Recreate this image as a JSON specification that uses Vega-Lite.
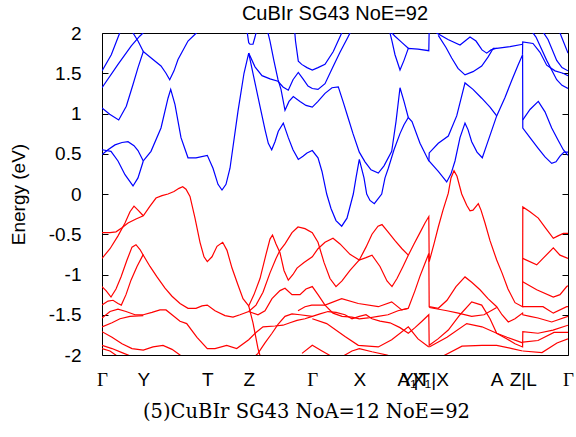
{
"$schema":"https://vega.github.io/schema/vega-lite/v6.json",
"width":466,"height":322,
"autosize":{"type":"none"},
"padding":{"left":102,"top":33,"right":8,"bottom":82},
"background":"white",
"config":{"view":{"stroke":"#000","strokeWidth":1}},
"title":{"text":"CuBIr SG43 NoE=92","font":"Liberation Sans","fontSize":20,"fontWeight":"normal","color":"#000","baseline":"alphabetic","offset":3,"dy":19},
"datasets":{
"kp":[{"k":41.3},{"k":105.3},{"k":146.7},{"k":210.3},{"k":257.3},{"k":306.3},{"k":327},{"k":394.7},{"k":420.7}],
"cb":[
{"b":1,"k":0,"e":0.49},{"b":1,"k":6,"e":0.55},{"b":1,"k":13,"e":0.61},{"b":1,"k":20,"e":0.64},{"b":1,"k":26,"e":0.65},{"b":1,"k":32,"e":0.6},{"b":1,"k":36,"e":0.54},{"b":1,"k":41.3,"e":0.41},
{"b":2,"k":0,"e":0.55},{"b":2,"k":9,"e":0.53},{"b":2,"k":16,"e":0.41},{"b":2,"k":23,"e":0.24},{"b":2,"k":31,"e":0.1},{"b":2,"k":36,"e":0.2},{"b":2,"k":41.3,"e":0.41},
{"b":3,"k":0,"e":1.07},{"b":3,"k":7.7,"e":0.99},{"b":3,"k":16.7,"e":0.92},{"b":3,"k":24.3,"e":1.09},{"b":3,"k":31,"e":1.36},{"b":3,"k":36,"e":1.57},{"b":3,"k":41.3,"e":1.77},{"b":3,"k":51,"e":1.67},{"b":3,"k":59,"e":1.59},{"b":3,"k":64,"e":1.5},{"b":3,"k":67.7,"e":1.42},{"b":3,"k":72,"e":1.53},{"b":3,"k":76,"e":1.67},{"b":3,"k":86,"e":1.9},{"b":3,"k":94.3,"e":2.0},{"b":3,"k":100,"e":2.1},
{"b":4,"k":0,"e":1.32},{"b":4,"k":16,"e":1.61},{"b":4,"k":29.3,"e":1.84},{"b":4,"k":37.7,"e":1.96},{"b":4,"k":41,"e":2.0},{"b":4,"k":44,"e":2.05},
{"b":5,"k":0,"e":1.53},{"b":5,"k":9.3,"e":1.73},{"b":5,"k":17.7,"e":2.0},{"b":5,"k":20,"e":2.05},
{"b":6,"k":28,"e":2.05},{"b":6,"k":31,"e":2.0},{"b":6,"k":36,"e":1.9},{"b":6,"k":41.3,"e":1.77},
{"b":7,"k":41.3,"e":0.41},{"b":7,"k":49,"e":0.53},{"b":7,"k":59,"e":0.82},{"b":7,"k":66,"e":1.19},{"b":7,"k":68.7,"e":1.3},{"b":7,"k":73,"e":1.11},{"b":7,"k":79,"e":0.7},{"b":7,"k":86,"e":0.45},{"b":7,"k":94,"e":0.45},{"b":7,"k":105.3,"e":0.48},{"b":7,"k":111,"e":0.32},{"b":7,"k":116,"e":0.12},{"b":7,"k":120,"e":0.05},{"b":7,"k":124,"e":0.12},{"b":7,"k":128,"e":0.32},{"b":7,"k":136,"e":1.03},{"b":7,"k":142,"e":1.5},{"b":7,"k":146.7,"e":1.75},{"b":7,"k":151.3,"e":1.48},{"b":7,"k":158,"e":1.09},{"b":7,"k":163,"e":0.8},{"b":7,"k":166.3,"e":0.63},{"b":7,"k":169.7,"e":0.55},{"b":7,"k":173,"e":0.65},{"b":7,"k":176.3,"e":0.78},{"b":7,"k":181.3,"e":0.88},{"b":7,"k":186.3,"e":0.7},{"b":7,"k":191,"e":0.55},{"b":7,"k":196.3,"e":0.43},{"b":7,"k":201,"e":0.47},{"b":7,"k":205,"e":0.51},{"b":7,"k":210.3,"e":0.54},{"b":7,"k":216,"e":0.45},{"b":7,"k":220,"e":0.28},{"b":7,"k":224.7,"e":0.0},{"b":7,"k":229,"e":-0.18},{"b":7,"k":234,"e":-0.33},{"b":7,"k":239.7,"e":-0.4},{"b":7,"k":245,"e":-0.3},{"b":7,"k":251.3,"e":0.0},{"b":7,"k":254,"e":0.2},{"b":7,"k":257.3,"e":0.43},{"b":7,"k":262,"e":0.2},{"b":7,"k":264.7,"e":0.0},{"b":7,"k":268,"e":-0.08},{"b":7,"k":272.3,"e":-0.12},{"b":7,"k":276,"e":-0.06},{"b":7,"k":279.7,"e":0.0},{"b":7,"k":283,"e":0.2},{"b":7,"k":286.3,"e":0.32},{"b":7,"k":292,"e":0.55},{"b":7,"k":298,"e":0.75},{"b":7,"k":302,"e":0.86},{"b":7,"k":306.3,"e":0.95},{"b":7,"k":310,"e":0.9},{"b":7,"k":318,"e":0.63},{"b":7,"k":326.8,"e":0.41},{"b":7,"k":327.2,"e":0.41},{"b":7,"k":336.3,"e":0.28},{"b":7,"k":344.7,"e":0.15},{"b":7,"k":349,"e":0.25},{"b":7,"k":353,"e":0.41},{"b":7,"k":358,"e":0.7},{"b":7,"k":363,"e":0.88},{"b":7,"k":366,"e":0.8},{"b":7,"k":369.7,"e":0.65},{"b":7,"k":375,"e":0.52},{"b":7,"k":380.3,"e":0.45},{"b":7,"k":385,"e":0.62},{"b":7,"k":394.7,"e":0.97},{"b":7,"k":403,"e":1.2},{"b":7,"k":410,"e":1.42},{"b":7,"k":416,"e":1.6},{"b":7,"k":420.6,"e":1.73},{"b":7,"k":420.8,"e":0.82},{"b":7,"k":428,"e":0.7},{"b":7,"k":436,"e":0.57},{"b":7,"k":443,"e":0.46},{"b":7,"k":449.7,"e":0.38},{"b":7,"k":454,"e":0.4},{"b":7,"k":458,"e":0.47},{"b":7,"k":462,"e":0.52},{"b":7,"k":466,"e":0.52},
{"b":8,"k":144.7,"e":2.05},{"b":8,"k":146.7,"e":1.88},{"b":8,"k":148,"e":1.86},{"b":8,"k":151,"e":1.86},{"b":8,"k":153,"e":1.95},{"b":8,"k":155,"e":2.05},
{"b":9,"k":420.8,"e":0.92},{"b":9,"k":428,"e":1.05},{"b":9,"k":436.3,"e":1.15},{"b":9,"k":443,"e":1.02},{"b":9,"k":449.7,"e":0.82},{"b":9,"k":456,"e":0.67},{"b":9,"k":461.3,"e":0.55},{"b":9,"k":466,"e":0.48},
{"b":10,"k":165,"e":2.05},{"b":10,"k":168,"e":1.9},{"b":10,"k":172,"e":1.65},{"b":10,"k":176,"e":1.42},{"b":10,"k":179,"e":1.3},{"b":10,"k":183,"e":1.04},{"b":10,"k":187,"e":1.15},{"b":10,"k":191.3,"e":1.21},{"b":10,"k":198,"e":1.15},{"b":10,"k":204,"e":1.1},{"b":10,"k":210.3,"e":1.08},{"b":10,"k":216,"e":1.15},{"b":10,"k":223,"e":1.25},{"b":10,"k":230,"e":1.32},{"b":10,"k":236.3,"e":1.33},{"b":10,"k":241,"e":1.15},{"b":10,"k":246,"e":0.95},{"b":10,"k":251,"e":0.75},{"b":10,"k":257.3,"e":0.52},{"b":10,"k":263,"e":0.4},{"b":10,"k":269,"e":0.3},{"b":10,"k":276.3,"e":0.26},{"b":10,"k":282,"e":0.35},{"b":10,"k":289.7,"e":0.53},{"b":10,"k":294,"e":0.9},{"b":10,"k":298,"e":1.32},{"b":10,"k":302,"e":1.15},{"b":10,"k":306.3,"e":0.95},
{"b":11,"k":146.7,"e":1.75},{"b":11,"k":153,"e":1.58},{"b":11,"k":160,"e":1.47},{"b":11,"k":168,"e":1.43},{"b":11,"k":176,"e":1.4},{"b":11,"k":181,"e":1.33},{"b":11,"k":186.3,"e":1.29},{"b":11,"k":191,"e":1.42},{"b":11,"k":196.3,"e":1.51},{"b":11,"k":201,"e":1.43},{"b":11,"k":206,"e":1.34},{"b":11,"k":210.3,"e":1.31},{"b":11,"k":216,"e":1.3},{"b":11,"k":223,"e":1.37},{"b":11,"k":231,"e":1.58},{"b":11,"k":238,"e":1.76},{"b":11,"k":246,"e":1.95},{"b":11,"k":250,"e":2.05},
{"b":12,"k":192.5,"e":2.05},{"b":12,"k":193.5,"e":1.9},{"b":12,"k":196.3,"e":1.65},{"b":12,"k":199.7,"e":1.61},{"b":12,"k":205,"e":1.57},{"b":12,"k":210.3,"e":1.54},{"b":12,"k":216,"e":1.57},{"b":12,"k":223,"e":1.61},{"b":12,"k":231.3,"e":1.77},{"b":12,"k":239.7,"e":2.0},{"b":12,"k":241,"e":2.05},
{"b":13,"k":287,"e":2.05},{"b":13,"k":290,"e":1.9},{"b":13,"k":293,"e":1.73},{"b":13,"k":298,"e":1.54},{"b":13,"k":302,"e":1.66},{"b":13,"k":306.3,"e":1.81},{"b":13,"k":316,"e":1.8},{"b":13,"k":326.8,"e":1.78},{"b":13,"k":327.2,"e":2.05},
{"b":14,"k":286,"e":2.05},{"b":14,"k":293,"e":1.96},{"b":14,"k":300,"e":1.88},{"b":14,"k":306.3,"e":1.81},
{"b":15,"k":326.9,"e":0.41},{"b":15,"k":327.2,"e":0.51},{"b":15,"k":336.3,"e":0.63},{"b":15,"k":346.3,"e":0.72},{"b":15,"k":354.7,"e":0.97},{"b":15,"k":363,"e":1.38},{"b":15,"k":371,"e":1.3},{"b":15,"k":379.7,"e":1.19},{"b":15,"k":388,"e":1.08},{"b":15,"k":394.7,"e":0.97},
{"b":16,"k":333,"e":2.05},{"b":16,"k":334.7,"e":2.0},{"b":16,"k":346,"e":1.92},{"b":16,"k":358,"e":1.85},{"b":16,"k":368,"e":1.95},{"b":16,"k":374,"e":1.9},{"b":16,"k":380,"e":1.79},{"b":16,"k":384.7,"e":1.75},{"b":16,"k":389,"e":1.79},{"b":16,"k":394.7,"e":1.81},{"b":16,"k":408,"e":1.83},{"b":16,"k":420.7,"e":1.86},
{"b":17,"k":336.3,"e":1.97},{"b":17,"k":344,"e":1.82},{"b":17,"k":349.7,"e":1.69},{"b":17,"k":356,"e":1.56},{"b":17,"k":363,"e":1.48},{"b":17,"k":371,"e":1.52},{"b":17,"k":379.7,"e":1.59},{"b":17,"k":386,"e":1.7},{"b":17,"k":391.3,"e":1.81},{"b":17,"k":394.7,"e":1.81},
{"b":18,"k":420.5,"e":1.73},{"b":18,"k":420.7,"e":1.89},{"b":18,"k":431,"e":1.87},{"b":18,"k":438,"e":1.76},{"b":18,"k":444.7,"e":1.6},{"b":18,"k":453,"e":1.53},{"b":18,"k":461,"e":1.5},{"b":18,"k":466,"e":1.47},
{"b":19,"k":428,"e":2.05},{"b":19,"k":434,"e":1.95},{"b":19,"k":444.7,"e":1.66},{"b":19,"k":454.7,"e":1.42},{"b":19,"k":460,"e":1.35},{"b":19,"k":466,"e":1.31},
{"b":20,"k":439,"e":2.05},{"b":20,"k":446,"e":1.92},{"b":20,"k":454.7,"e":1.66},{"b":20,"k":460,"e":1.57},{"b":20,"k":466,"e":1.53},
{"b":21,"k":456,"e":2.05},{"b":21,"k":458,"e":2.0},{"b":21,"k":466,"e":1.75}
],
"vb":[
{"b":1,"k":0,"e":-0.48},{"b":1,"k":8,"e":-0.48},{"b":1,"k":14,"e":-0.47},{"b":1,"k":20,"e":-0.42},{"b":1,"k":26,"e":-0.36},{"b":1,"k":34,"e":-0.31},{"b":1,"k":41.3,"e":-0.27},{"b":1,"k":48,"e":-0.15},{"b":1,"k":54,"e":-0.05},{"b":1,"k":60,"e":-0.02},{"b":1,"k":66,"e":0.0},{"b":1,"k":72,"e":0.03},{"b":1,"k":77,"e":0.07},{"b":1,"k":80.7,"e":0.09},{"b":1,"k":84,"e":0.06},{"b":1,"k":88,"e":-0.03},{"b":1,"k":93,"e":-0.3},{"b":1,"k":98,"e":-0.6},{"b":1,"k":102,"e":-0.78},{"b":1,"k":105.3,"e":-0.84},{"b":1,"k":110,"e":-0.78},{"b":1,"k":115,"e":-0.65},{"b":1,"k":120.7,"e":-0.6},{"b":1,"k":125,"e":-0.7},{"b":1,"k":130,"e":-0.92},{"b":1,"k":136,"e":-1.13},{"b":1,"k":141,"e":-1.3},{"b":1,"k":146.7,"e":-1.39},{"b":1,"k":152,"e":-1.25},{"b":1,"k":158,"e":-1.05},{"b":1,"k":164,"e":-0.75},{"b":1,"k":168,"e":-0.56},{"b":1,"k":170.5,"e":-0.51},{"b":1,"k":174,"e":-0.62},{"b":1,"k":178,"e":-0.73},{"b":1,"k":182,"e":-0.95},{"b":1,"k":186.3,"e":-1.07},{"b":1,"k":191,"e":-1.0},{"b":1,"k":195,"e":-0.92},{"b":1,"k":202,"e":-0.85},{"b":1,"k":210.3,"e":-0.78},{"b":1,"k":216,"e":-0.68},{"b":1,"k":223,"e":-0.6},{"b":1,"k":231,"e":-0.55},{"b":1,"k":238,"e":-0.62},{"b":1,"k":248,"e":-0.75},{"b":1,"k":257.3,"e":-0.82},{"b":1,"k":264,"e":-0.79},{"b":1,"k":270,"e":-0.76},{"b":1,"k":278,"e":-0.9},{"b":1,"k":285,"e":-1.08},{"b":1,"k":290,"e":-1.15},{"b":1,"k":295,"e":-1.05},{"b":1,"k":301,"e":-0.9},{"b":1,"k":306.3,"e":-0.76},{"b":1,"k":312,"e":-0.62},{"b":1,"k":318,"e":-0.48},{"b":1,"k":323,"e":-0.36},{"b":1,"k":326.8,"e":-0.28},{"b":1,"k":327.2,"e":-0.84},{"b":1,"k":332,"e":-0.62},{"b":1,"k":336.3,"e":-0.41},{"b":1,"k":341,"e":-0.2},{"b":1,"k":346.3,"e":0.01},{"b":1,"k":349,"e":0.2},{"b":1,"k":352,"e":0.29},{"b":1,"k":355,"e":0.22},{"b":1,"k":359.7,"e":0.0},{"b":1,"k":364.7,"e":-0.14},{"b":1,"k":368,"e":-0.21},{"b":1,"k":371,"e":-0.2},{"b":1,"k":376.3,"e":-0.12},{"b":1,"k":379,"e":-0.2},{"b":1,"k":383,"e":-0.36},{"b":1,"k":388,"e":-0.58},{"b":1,"k":394.7,"e":-0.82},{"b":1,"k":400,"e":-0.98},{"b":1,"k":406,"e":-1.18},{"b":1,"k":413,"e":-1.35},{"b":1,"k":420.6,"e":-1.4},{"b":1,"k":420.8,"e":-0.16},{"b":1,"k":428,"e":-0.22},{"b":1,"k":436.3,"e":-0.3},{"b":1,"k":444,"e":-0.43},{"b":1,"k":451.3,"e":-0.55},{"b":1,"k":456,"e":-0.52},{"b":1,"k":461.3,"e":-0.49},{"b":1,"k":466,"e":-0.49},
{"b":2,"k":0,"e":-0.8},{"b":2,"k":8,"e":-0.68},{"b":2,"k":16,"e":-0.52},{"b":2,"k":23,"e":-0.36},{"b":2,"k":28,"e":-0.22},{"b":2,"k":32,"e":-0.15},{"b":2,"k":36,"e":-0.2},{"b":2,"k":41.3,"e":-0.27},
{"b":3,"k":0,"e":-1.15},{"b":3,"k":4,"e":-1.2},{"b":3,"k":9,"e":-1.28},{"b":3,"k":14,"e":-1.18},{"b":3,"k":19,"e":-1.03},{"b":3,"k":25,"e":-0.82},{"b":3,"k":30,"e":-0.66},{"b":3,"k":34,"e":-0.63},{"b":3,"k":38,"e":-0.69},{"b":3,"k":41.3,"e":-0.76},{"b":3,"k":48,"e":-0.9},{"b":3,"k":55,"e":-1.03},{"b":3,"k":63,"e":-1.17},{"b":3,"k":70,"e":-1.27},{"b":3,"k":78,"e":-1.36},{"b":3,"k":86,"e":-1.42},{"b":3,"k":94,"e":-1.42},{"b":3,"k":100,"e":-1.39},{"b":3,"k":105.3,"e":-1.38},{"b":3,"k":113,"e":-1.45},{"b":3,"k":123,"e":-1.51},{"b":3,"k":131,"e":-1.53},{"b":3,"k":138,"e":-1.5},{"b":3,"k":146.7,"e":-1.46},{"b":3,"k":154,"e":-1.38},{"b":3,"k":161,"e":-1.22},{"b":3,"k":168,"e":-0.98},{"b":3,"k":174,"e":-0.8},{"b":3,"k":178,"e":-0.7},{"b":3,"k":183,"e":-0.62},{"b":3,"k":190,"e":-0.48},{"b":3,"k":196,"e":-0.41},{"b":3,"k":203,"e":-0.43},{"b":3,"k":210.3,"e":-0.48},{"b":3,"k":216,"e":-0.6},{"b":3,"k":222,"e":-0.85},{"b":3,"k":228,"e":-1.05},{"b":3,"k":234,"e":-1.15},{"b":3,"k":240,"e":-1.08},{"b":3,"k":248,"e":-0.95},{"b":3,"k":257.3,"e":-0.82},{"b":3,"k":264,"e":-0.66},{"b":3,"k":270,"e":-0.5},{"b":3,"k":276,"e":-0.4},{"b":3,"k":280,"e":-0.38},{"b":3,"k":286,"e":-0.47},{"b":3,"k":293,"e":-0.58},{"b":3,"k":300,"e":-0.68},{"b":3,"k":306.3,"e":-0.76},
{"b":4,"k":0,"e":-1.38},{"b":4,"k":6,"e":-1.33},{"b":4,"k":11,"e":-1.32},{"b":4,"k":16,"e":-1.36},{"b":4,"k":19.3,"e":-1.38},{"b":4,"k":24,"e":-1.25},{"b":4,"k":29,"e":-1.07},{"b":4,"k":35,"e":-0.9},{"b":4,"k":41.3,"e":-0.75},
{"b":5,"k":0,"e":-1.54},{"b":5,"k":8,"e":-1.46},{"b":5,"k":16,"e":-1.43},{"b":5,"k":24,"e":-1.46},{"b":5,"k":33,"e":-1.5},{"b":5,"k":41.3,"e":-1.5},{"b":5,"k":50,"e":-1.47},{"b":5,"k":58,"e":-1.44},{"b":5,"k":64,"e":-1.44},{"b":5,"k":70,"e":-1.5},{"b":5,"k":78,"e":-1.58},{"b":5,"k":84.7,"e":-1.61},{"b":5,"k":95,"e":-1.78},{"b":5,"k":105.3,"e":-1.92},{"b":5,"k":113,"e":-1.92},{"b":5,"k":124.7,"e":-1.88},{"b":5,"k":134.7,"e":-1.92},{"b":5,"k":146.7,"e":-1.81},{"b":5,"k":154,"e":-1.72},{"b":5,"k":161,"e":-1.65},{"b":5,"k":173,"e":-1.64},{"b":5,"k":181,"e":-1.63},{"b":5,"k":188,"e":-1.6},{"b":5,"k":195,"e":-1.57},{"b":5,"k":203,"e":-1.55},{"b":5,"k":210.3,"e":-1.52},{"b":5,"k":218,"e":-1.49},{"b":5,"k":226,"e":-1.46},{"b":5,"k":234,"e":-1.47},{"b":5,"k":243,"e":-1.5},{"b":5,"k":250,"e":-1.55},{"b":5,"k":257.3,"e":-1.52},{"b":5,"k":264,"e":-1.5},{"b":5,"k":270,"e":-1.55},{"b":5,"k":278,"e":-1.58},{"b":5,"k":288,"e":-1.6},{"b":5,"k":298,"e":-1.66},{"b":5,"k":306.3,"e":-1.73},{"b":5,"k":313,"e":-1.66},{"b":5,"k":320,"e":-1.58},{"b":5,"k":326.8,"e":-1.5},{"b":5,"k":327.2,"e":-1.88},{"b":5,"k":336,"e":-1.8},{"b":5,"k":346.3,"e":-1.69},{"b":5,"k":358,"e":-1.5},{"b":5,"k":369.7,"e":-1.34},{"b":5,"k":379.7,"e":-1.38},{"b":5,"k":388,"e":-1.55},{"b":5,"k":394.7,"e":-1.73},{"b":5,"k":405,"e":-1.8},{"b":5,"k":413,"e":-1.86},{"b":5,"k":420.6,"e":-1.9},{"b":5,"k":420.8,"e":-1.71},{"b":5,"k":436,"e":-1.73},{"b":5,"k":451,"e":-1.69},{"b":5,"k":466,"e":-1.63},
{"b":6,"k":0,"e":-1.65},{"b":6,"k":10,"e":-1.6},{"b":6,"k":18,"e":-1.55},{"b":6,"k":28,"e":-1.52},{"b":6,"k":41.3,"e":-1.51},
{"b":7,"k":0,"e":-1.71},{"b":7,"k":10,"e":-1.78},{"b":7,"k":20,"e":-1.86},{"b":7,"k":30,"e":-1.92},{"b":7,"k":41.3,"e":-1.94},{"b":7,"k":51,"e":-1.9},{"b":7,"k":61,"e":-1.88},{"b":7,"k":70,"e":-1.93},{"b":7,"k":78,"e":-2.0},{"b":7,"k":84,"e":-2.05},
{"b":8,"k":0,"e":-1.88},{"b":8,"k":10,"e":-1.92},{"b":8,"k":20,"e":-1.97},{"b":8,"k":30,"e":-2.02},
{"b":9,"k":0,"e":-1.92},{"b":9,"k":8,"e":-1.95},{"b":9,"k":16,"e":-2.02},
{"b":12,"k":146.7,"e":-1.46},{"b":12,"k":156,"e":-1.5},{"b":12,"k":163,"e":-1.45},{"b":12,"k":170,"e":-1.3},{"b":12,"k":178,"e":-1.2},{"b":12,"k":183,"e":-1.17},{"b":12,"k":190,"e":-1.25},{"b":12,"k":198,"e":-1.25},{"b":12,"k":204,"e":-1.18},{"b":12,"k":210.3,"e":-1.15},{"b":12,"k":216,"e":-1.25},{"b":12,"k":223,"e":-1.38},{"b":12,"k":231,"e":-1.48},{"b":12,"k":240,"e":-1.52},{"b":12,"k":250,"e":-1.53},{"b":12,"k":257.3,"e":-1.55},{"b":12,"k":266,"e":-1.54},{"b":12,"k":276,"e":-1.52},{"b":12,"k":286,"e":-1.5},{"b":12,"k":296,"e":-1.45},{"b":12,"k":306.3,"e":-1.42},{"b":12,"k":313,"e":-1.2},{"b":12,"k":318,"e":-1.02},{"b":12,"k":323,"e":-0.86},{"b":12,"k":326.8,"e":-0.74},{"b":12,"k":327.2,"e":-1.4},{"b":12,"k":336.3,"e":-1.42},{"b":12,"k":345,"e":-1.32},{"b":12,"k":354,"e":-1.15},{"b":12,"k":363,"e":-1.03},{"b":12,"k":370,"e":-1.1},{"b":12,"k":378,"e":-1.19},{"b":12,"k":386,"e":-1.3},{"b":12,"k":394.7,"e":-1.4},{"b":12,"k":400,"e":-1.5},{"b":12,"k":406.3,"e":-1.59},{"b":12,"k":413,"e":-1.55},{"b":12,"k":420.6,"e":-1.48},{"b":12,"k":420.8,"e":-1.5},{"b":12,"k":428,"e":-1.52},{"b":12,"k":436,"e":-1.54},{"b":12,"k":449.7,"e":-1.59},{"b":12,"k":466,"e":-1.52},
{"b":13,"k":150,"e":-2.05},{"b":13,"k":156,"e":-1.98},{"b":13,"k":163,"e":-1.85},{"b":13,"k":170,"e":-1.73},{"b":13,"k":176,"e":-1.62},{"b":13,"k":183,"e":-1.52},{"b":13,"k":190,"e":-1.49},{"b":13,"k":198,"e":-1.5},{"b":13,"k":210.3,"e":-1.52},
{"b":14,"k":210.3,"e":-1.55},{"b":14,"k":224.7,"e":-1.61},{"b":14,"k":243,"e":-1.77},{"b":14,"k":256.3,"e":-1.88},{"b":14,"k":276.3,"e":-1.9},{"b":14,"k":289.7,"e":-1.81},{"b":14,"k":306.3,"e":-1.65},{"b":14,"k":316,"e":-1.8},{"b":14,"k":326.8,"e":-1.9},
{"b":16,"k":196,"e":-1.45},{"b":16,"k":203,"e":-1.4},{"b":16,"k":209.7,"e":-1.38},{"b":16,"k":223,"e":-1.38},{"b":16,"k":239.7,"e":-1.3},{"b":16,"k":256.3,"e":-1.36},{"b":16,"k":276.3,"e":-1.4},{"b":16,"k":289.7,"e":-1.34},{"b":16,"k":299.7,"e":-1.44},{"b":16,"k":306.3,"e":-1.42},
{"b":17,"k":200,"e":-1.98},{"b":17,"k":210.3,"e":-1.88},{"b":17,"k":220,"e":-1.95},{"b":17,"k":230,"e":-2.02},
{"b":18,"k":236,"e":-2.05},{"b":18,"k":250,"e":-1.95},{"b":18,"k":257.3,"e":-1.92},{"b":18,"k":270,"e":-1.96},{"b":18,"k":285,"e":-2.0},{"b":18,"k":295,"e":-2.05},
{"b":19,"k":327.2,"e":-1.41},{"b":19,"k":345,"e":-1.45},{"b":19,"k":356.3,"e":-1.48},{"b":19,"k":369.7,"e":-1.52},{"b":19,"k":382,"e":-1.5},{"b":19,"k":394.7,"e":-1.41},
{"b":20,"k":327.2,"e":-1.9},{"b":20,"k":345,"e":-1.78},{"b":20,"k":364.7,"e":-1.61},{"b":20,"k":380,"e":-1.65},{"b":20,"k":394.7,"e":-1.73},{"b":20,"k":405,"e":-1.78},{"b":20,"k":420.6,"e":-1.85},
{"b":21,"k":340,"e":-2.02},{"b":21,"k":360,"e":-1.89},{"b":21,"k":380,"e":-1.88},{"b":21,"k":394.7,"e":-1.88},{"b":21,"k":410,"e":-1.92},{"b":21,"k":420.6,"e":-1.95},
{"b":22,"k":420.7,"e":-0.8},{"b":22,"k":434.7,"e":-0.88},{"b":22,"k":441,"e":-0.8},{"b":22,"k":451.3,"e":-0.67},{"b":22,"k":458,"e":-0.76},{"b":22,"k":466,"e":-0.8},
{"b":23,"k":420.7,"e":-1.09},{"b":23,"k":434.7,"e":-1.19},{"b":23,"k":451.3,"e":-1.28},{"b":23,"k":458,"e":-1.25},{"b":23,"k":464.7,"e":-1.15},{"b":23,"k":466,"e":-1.14},
{"b":24,"k":420.8,"e":-1.4},{"b":24,"k":441,"e":-1.4},{"b":24,"k":451.3,"e":-1.48},{"b":24,"k":464.7,"e":-1.4},{"b":24,"k":466,"e":-1.4},
{"b":25,"k":420.8,"e":-1.84},{"b":25,"k":436,"e":-1.82},{"b":25,"k":452,"e":-1.72},{"b":25,"k":466,"e":-1.72},
{"b":26,"k":420.8,"e":-1.95},{"b":26,"k":440,"e":-1.97},{"b":26,"k":455,"e":-1.85},{"b":26,"k":466,"e":-1.8},
{"b":27,"k":146.7,"e":-1.39},{"b":27,"k":151,"e":-1.6},{"b":27,"k":156,"e":-1.92},{"b":27,"k":159,"e":-2.05}
]},
"encoding":{
"x":{"field":"k","type":"quantitative","scale":{"domain":[0,466],"nice":false,"zero":false},
"axis":{"values":[0,41.3,105.3,146.7,210.3,257.3,304.5,313,328,394.7,420.7,466],
"labelExpr":"datum.value<1?'Γ':datum.value<50?'Y':datum.value<120?'T':datum.value<150?'Z':datum.value<220?'Γ':datum.value<260?'X':datum.value<310?'A₁':datum.value<320?'Y|T':datum.value<330?'X₁|X':datum.value<400?'A':datum.value<430?'Z|L':'Γ'",
"ticks":false,"domain":false,"grid":false,"labelFontSize":19,
"labelFont":{"condition":{"test":"datum.value<1 || (datum.value>200 && datum.value<220) || datum.value>460","value":"Liberation Serif"},"value":"Liberation Sans"},
"labelColor":"#000","labelPadding":15,"labelOverlap":false,"labelFlush":false,"labelBound":false,
"title":"(5)CuBIr SG43 NoA=12 NoE=92","titleFont":"DejaVu Serif","titleFontSize":19.5,"titleFontWeight":"normal","titleColor":"#000","titlePadding":13,"titleX":204}},
"y":{"field":"e","type":"quantitative","scale":{"domain":[-2,2],"nice":false,"zero":false},"axis":null}
},
"resolve":{"axis":{"y":"independent"}},
"layer":[
{"data":{"name":"kp"},"mark":{"type":"rule","color":"#000","strokeWidth":0.8,"strokeDash":[2,3]},"encoding":{"y":{"datum":-2},"y2":{"datum":2}}},
{"data":{"name":"cb"},"mark":{"type":"line","clip":true,"color":"#0000ff","strokeWidth":1.2},"encoding":{
"y":{"field":"e","type":"quantitative","scale":{"domain":[-2,2],"nice":false,"zero":false},
"axis":{"orient":"left","values":[-2,-1.5,-1,-0.5,0,0.5,1,1.5,2],"labelExpr":"''+datum.value","tickSize":-6,"tickColor":"#000","domain":false,"grid":false,
"labelFontSize":19,"labelFont":"Liberation Sans","labelColor":"#000","labelPadding":27,
"title":"Energy (eV)","titleFont":"Liberation Sans","titleFontSize":19,"titleFontWeight":"normal","titleColor":"#000","titlePadding":20}},
"detail":{"field":"b","type":"nominal"}}},
{"data":{"name":"vb"},"mark":{"type":"line","clip":true,"color":"#ff0000","strokeWidth":1.2},"encoding":{"detail":{"field":"b","type":"nominal"}}},
{"data":{"values":[{"e":0}]},"mark":{"type":"rule","color":"#333","strokeWidth":1.3},"encoding":{"x":{"datum":0},"x2":{"datum":466},
"y":{"field":"e","type":"quantitative","scale":{"domain":[-2,2],"nice":false,"zero":false},
"axis":{"orient":"right","values":[-2,-1.5,-1,-0.5,0,0.5,1,1.5,2],"labels":false,"tickSize":-6,"tickColor":"#000","domain":false,"grid":false,"title":null}}}}
]
}
